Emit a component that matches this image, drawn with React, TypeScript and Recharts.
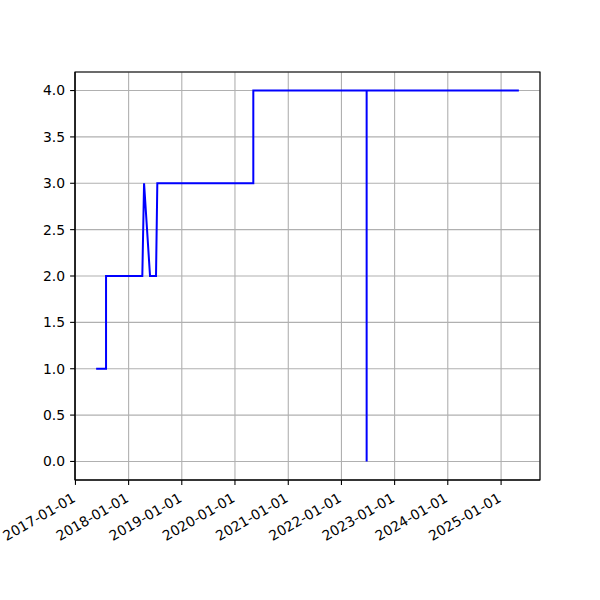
import { LineChart, Line, XAxis, YAxis, CartesianGrid, ReferenceArea } from "recharts";

// step history
const dates = [
  "2017-05-23", "2017-07-30", "2017-07-30", "2018-04-05", "2018-04-17",
  "2018-05-28", "2018-07-08", "2018-07-17", "2020-05-06", "2020-05-06",
  "2022-06-23", "2022-06-23", "2022-06-23", "2025-05-03",
];
const values = [1, 1, 2, 2, 3, 2, 2, 3, 3, 4, 4, 0, 4, 4];

const yearTicks = ["2017-01-01", "2018-01-01", "2019-01-01", "2020-01-01", "2021-01-01", "2022-01-01", "2023-01-01", "2024-01-01", "2025-01-01"];
const yTicks = [0, 0.5, 1, 1.5, 2, 2.5, 3, 3.5, 4];

const toMs = (d: string) => Date.parse(d + "T00:00:00Z");
const data = dates.map((d, i) => ({ t: toMs(d), v: values[i] }));

// matplotlib-like 5% margins
const tMin = Math.min(...data.map((p) => p.t));
const tMax = Math.max(...data.map((p) => p.t));
const pad = (tMax - tMin) * 0.05;
const xDomain = [tMin - pad, tMax + pad];
const yDomain = [-0.2, 4.2];

const FONT = "DejaVu Sans, sans-serif";
const FS = 13.9;

const fmtDate = (ms: number) => new Date(ms).toISOString().slice(0, 10);

function DateTick(props: any) {
  const { x, y, payload } = props;
  return (
    <text
      x={0}
      y={0}
      transform={`translate(${x + 1},${y + 14}) rotate(-30)`}
      textAnchor="end"
      fontFamily={FONT}
      fontSize={FS}
      fill="#000"
    >
      {fmtDate(payload.value)}
    </text>
  );
}

export default function App() {
  return (
    <div style={{ position: "absolute", left: 0, top: 0, width: 600, height: 600, background: "#fff" }}>
      <LineChart width={600} height={600} data={data} margin={{ top: 72, right: 60, bottom: 80, left: 0 }}>
        <CartesianGrid stroke="#b0b0b0" strokeWidth={1.1} />
        <XAxis
          dataKey="t"
          type="number"
          domain={xDomain}
          ticks={yearTicks.map(toMs)}
          allowDataOverflow
          height={40}
          tick={<DateTick />}
          tickSize={4.9}
          tickLine={{ stroke: "#000", strokeWidth: 1.1 }}
          axisLine={{ stroke: "#000", strokeWidth: 1.1 }}
          interval={0}
        />
        <YAxis
          type="number"
          domain={yDomain}
          ticks={yTicks}
          allowDataOverflow
          width={75}
          tickFormatter={(v: number) => v.toFixed(1)}
          tick={{ fontFamily: FONT, fontSize: FS, fill: "#000" }}
          tickSize={4.9}
          tickMargin={5}
          tickLine={{ stroke: "#000", strokeWidth: 1.1 }}
          axisLine={{ stroke: "#000", strokeWidth: 1.1 }}
          interval={0}
        />
        <ReferenceArea
          x1={xDomain[0]}
          x2={xDomain[1]}
          y1={yDomain[0]}
          y2={yDomain[1]}
          fill="none"
          fillOpacity={0}
          stroke="#000"
          strokeWidth={1.1}
        />
        <Line
          type="linear"
          dataKey="v"
          stroke="#0000ff"
          strokeWidth={2}
          dot={false}
          isAnimationActive={false}
        />
      </LineChart>
    </div>
  );
}
